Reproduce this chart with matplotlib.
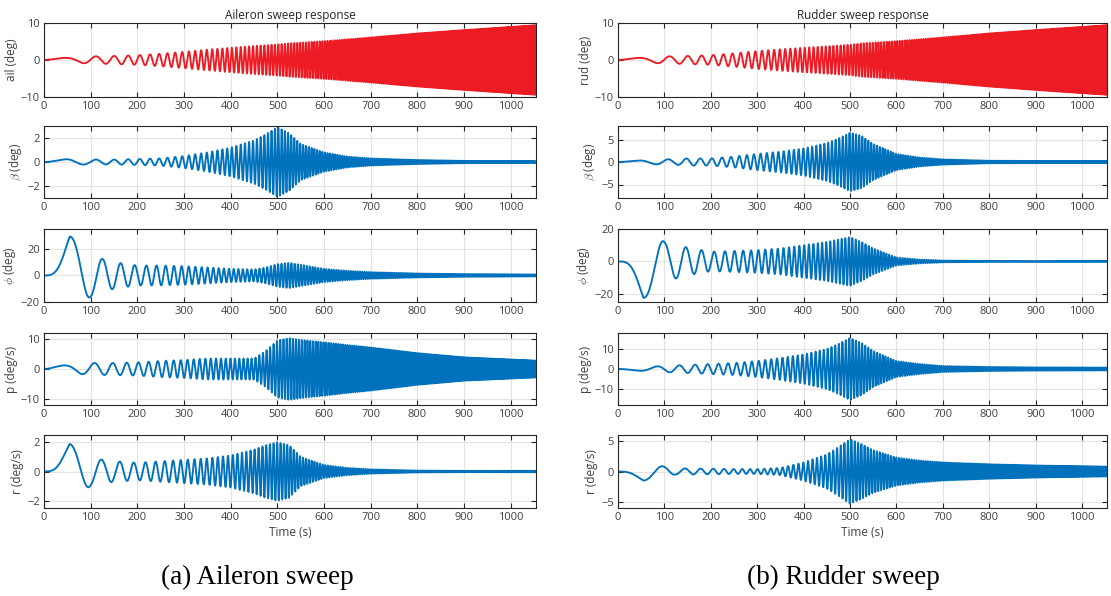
import numpy as np
import matplotlib
matplotlib.use("Agg")
import matplotlib.pyplot as plt

# ---------------- data ----------------
T_END = 1054.0
# sweep frequency f(t) = F_LIN * t + F_QUAD * t^2  (Hz), read from peak spacing
F_LIN = 1.44e-4
F_QUAD = 2.48e-7

# envelope knot times (s)
knot_t = [0, 20, 55, 100, 125, 150, 200, 250, 300, 350, 400, 450, 475, 500,
          525, 550, 600, 650, 700, 800, 900, 1054]

# Aileron sweep (left column) amplitude envelopes
ail_amp   = [0.3, 0.5, 0.6, 1.0, 1.0, 1.1, 1.3, 1.7, 2.2, 2.8, 3.3, 3.8, 4.0, 4.2,
             4.5, 4.7, 5.1, 5.6, 6.1, 7.2, 8.1, 9.4]
betaA_amp = [0.0, 0.15, 0.25, 0.2, 0.2, 0.2, 0.25, 0.3, 0.5, 0.8, 1.2, 1.8, 2.3, 2.9,
             2.4, 1.5, 0.8, 0.45, 0.3, 0.17, 0.1, 0.07]
phiA_amp  = [0.0, 10.0, 30.0, 16.0, 12.5, 10.0, 7.5, 7.5, 7.0, 6.0, 5.0, 4.5, 6.0, 8.5,
             9.5, 8.0, 5.0, 3.5, 2.5, 1.5, 1.0, 0.7]
pA_amp    = [0.0, 1.0, 1.3, 2.0, 2.0, 2.0, 2.2, 2.7, 3.0, 3.5, 3.5, 3.5, 6.0, 9.5,
             10.3, 9.7, 8.9, 8.0, 7.2, 5.3, 3.9, 2.8]
rA_amp    = [0.0, 0.6, 1.9, 1.0, 0.8, 0.7, 0.6, 0.7, 0.8, 0.9, 1.1, 1.5, 1.8, 2.0,
             1.8, 1.0, 0.45, 0.25, 0.15, 0.07, 0.05, 0.05]

# Rudder sweep (right column) amplitude envelopes
rud_amp   = [0.3, 0.5, 0.6, 1.0, 1.0, 1.1, 1.3, 1.8, 2.4, 2.9, 3.3, 3.7, 3.9, 4.1,
             4.5, 4.7, 5.1, 5.6, 6.1, 7.2, 8.1, 9.4]
betaR_amp = [0.0, 0.2, 0.4, 0.6, 0.6, 0.8, 0.8, 1.2, 1.8, 2.3, 3.0, 4.2, 5.2, 6.5,
             5.8, 4.0, 1.8, 1.0, 0.6, 0.3, 0.25, 0.2]
phiR_amp  = [0.0, 7.0, 23.0, 12.0, 10.5, 8.5, 6.0, 6.5, 7.0, 8.0, 10.0, 12.0, 13.5, 15.0,
             12.0, 8.0, 2.5, 1.2, 0.6, 0.3, 0.25, 0.2]
pR_amp    = [0.0, 0.5, 1.0, 1.5, 1.8, 2.0, 2.5, 3.0, 4.0, 5.5, 7.3, 10.0, 12.5, 15.5,
             13.0, 9.0, 4.0, 2.5, 1.5, 1.0, 0.8, 0.7]
rR_amp    = [0.0, 0.6, 1.5, 0.8, 0.5, 0.5, 0.45, 0.4, 0.4, 0.6, 1.5, 2.8, 4.0, 5.3,
             4.5, 3.5, 2.3, 1.8, 1.5, 1.2, 1.0, 0.8]

# per-signal response sign and time lag (s)
signs = {"ail": 1, "betaA": 1, "phiA": 1, "pA": 1, "rA": 1,
         "rud": 1, "betaR": 1, "phiR": -1, "pR": -1, "rR": -1}
lags = {"ail": -12, "betaA": -12, "phiA": 2, "pA": -15, "rA": 0,
        "rud": -12, "betaR": -15, "phiR": 2, "pR": -12, "rR": 0}

left_labels  = ["ail (deg)", r"$\beta$ (deg)", r"$\phi$ (deg)", "p (deg/s)", "r (deg/s)"]
right_labels = ["rud (deg)", r"$\beta$ (deg)", r"$\phi$ (deg)", "p (deg/s)", "r (deg/s)"]
left_ylims  = [(-10, 10), (-3, 3), (-20, 35), (-12, 12), (-2.5, 2.5)]
right_ylims = [(-10, 10), (-8, 8), (-25, 20), (-18, 18), (-6, 6)]
left_yticks  = [[-10, 0, 10], [-2, 0, 2], [-20, 0, 20], [-10, 0, 10], [-2, 0, 2]]
right_yticks = [[-10, 0, 10], [-5, 0, 5], [-20, 0, 20], [-10, 0, 10], [-5, 0, 5]]
xticks = list(range(0, 1001, 100))

titles = ["Aileron sweep response", "Rudder sweep response"]
captions = ["(a) Aileron sweep", "(b) Rudder sweep"]

# ---------------- build signals ----------------
t = np.arange(0, T_END + 0.02, 0.02)

def sweep(amp, key):
    tau = np.clip(t - lags[key], 0, None)
    cycles = F_LIN * tau ** 2 / 2 + F_QUAD * tau ** 3 / 3
    env = np.interp(t, knot_t, amp)
    return signs[key] * env * np.sin(2 * np.pi * cycles)

left_series  = [sweep(ail_amp, "ail"), sweep(betaA_amp, "betaA"), sweep(phiA_amp, "phiA"),
                sweep(pA_amp, "pA"), sweep(rA_amp, "rA")]
right_series = [sweep(rud_amp, "rud"), sweep(betaR_amp, "betaR"), sweep(phiR_amp, "phiR"),
                sweep(pR_amp, "pR"), sweep(rR_amp, "rR")]

# ---------------- figure ----------------
plt.rcParams["font.family"] = ["Open Sans", "DejaVu Sans"]
plt.rcParams["mathtext.fontset"] = "cm"

W, H = 1111, 596
fig = plt.figure(figsize=(W / 100, H / 100), dpi=100)

rows = [(23, 97), (126, 198), (229, 302), (333, 405), (435, 508)]
cols = [(44, 536), (618, 1107)]

RED = "#ED1C24"
BLUE = "#0072BD"
TXT = "#404040"
SPINE = "#262626"

for ci, (x0, x1) in enumerate(cols):
    series = left_series if ci == 0 else right_series
    labels = left_labels if ci == 0 else right_labels
    ylims = left_ylims if ci == 0 else right_ylims
    yticks = left_yticks if ci == 0 else right_yticks
    for ri, (y0, y1) in enumerate(rows):
        ax = fig.add_axes([x0 / W, 1 - y1 / H, (x1 - x0) / W, (y1 - y0) / H])
        color = RED if ri == 0 else BLUE
        ax.plot(t, series[ri], color=color, lw=1.35)
        ax.set_xlim(0, T_END)
        ax.set_ylim(*ylims[ri])
        ax.set_xticks(xticks)
        ax.set_yticks(yticks[ri])
        ax.grid(True, color="#e3e3e3", lw=0.8)
        ax.set_axisbelow(True)
        ax.tick_params(direction="in", length=3.5, width=0.8, colors=SPINE,
                       labelcolor=TXT, labelsize=8, top=True, right=True, pad=3)
        for sp in ax.spines.values():
            sp.set_color(SPINE)
            sp.set_linewidth(0.8)
        ax.set_ylabel(labels[ri], fontsize=8.5, color=TXT, labelpad=2)
        if ri == 0:
            ax.set_title(titles[ci], fontsize=8.5, color="#262626", pad=3)
        if ri == 4:
            ax.set_xlabel("Time (s)", fontsize=8.5, color=TXT, labelpad=2)

fig.text(257 / W, 1 - 577 / H, captions[0], ha="center", va="center",
         fontsize=19.5, family="Liberation Serif", color="black")
fig.text(843 / W, 1 - 577 / H, captions[1], ha="center", va="center",
         fontsize=19.5, family="Liberation Serif", color="black")

fig.savefig("out.png", dpi=100)
